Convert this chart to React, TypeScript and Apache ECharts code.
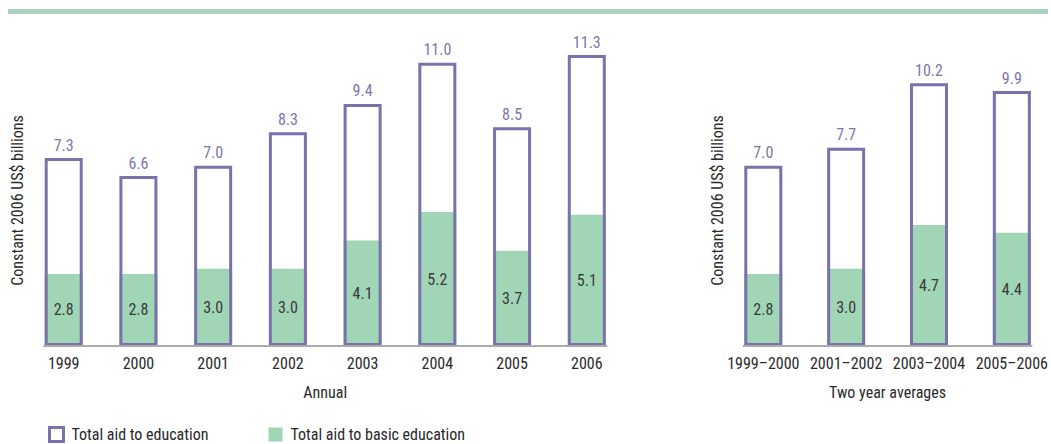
import React, { useEffect, useRef } from "react";
import * as echarts from "echarts";

const years = ["1999", "2000", "2001", "2002", "2003", "2004", "2005", "2006"];
const totalAnnual = [7.3, 6.6, 7.0, 8.3, 9.4, 11.0, 8.5, 11.3];
const basicAnnual = [2.8, 2.8, 3.0, 3.0, 4.1, 5.2, 3.7, 5.1];

const periods = ["1999–2000", "2001–2002", "2003–2004", "2005–2006"];
const totalAvg = [7.0, 7.7, 10.2, 9.9];
const basicAvg = [2.8, 3.0, 4.7, 4.4];

const yAxisTitle = "Constant 2006 US$ billions";
const leftTitle = "Annual";
const rightTitle = "Two year averages";
const totalName = "Total aid to education";
const basicName = "Total aid to basic education";

const FONT = "'Liberation Sans Narrow', 'Roboto Condensed', 'DejaVu Sans Condensed', 'Liberation Sans', sans-serif";
const PURPLE = "#7a72aa";
const PURPLE_TEXT = "#7d76ad";
const GREEN = "#a0d5b6";
const TEXT = "#2a2a2a";
const BAR_W = 38;

export default function App() {
  const ref = useRef<HTMLDivElement>(null);
  useEffect(() => {
    document.body.style.margin = "0";
    document.body.style.overflow = "hidden";
    if (!ref.current) return;
    const chart = echarts.init(ref.current, null, { renderer: "svg" });
    const yMax = Math.max(...totalAnnual, ...totalAvg);

    const yAxisCommon = (gridIndex: number) => ({
      type: "value",
      gridIndex,
      min: 0,
      max: yMax,
      name: yAxisTitle,
      nameLocation: "middle",
      nameGap: 38,
      nameTextStyle: { fontFamily: FONT, fontSize: 16, color: TEXT },
      axisLine: { show: false },
      axisTick: { show: false },
      axisLabel: { show: false },
      splitLine: { show: false },
    });
    const xAxisCommon = (gridIndex: number, data: string[], name: string) => ({
      type: "category",
      gridIndex,
      data,
      boundaryGap: false,
      name,
      nameLocation: "middle",
      nameGap: 38,
      nameTextStyle: { fontFamily: FONT, fontSize: 16, color: TEXT },
      axisLine: { show: false },
      axisTick: { show: false },
      splitLine: { show: false },
      axisLabel: { interval: 0, hideOverlap: false, fontFamily: FONT, fontSize: 16, color: TEXT, margin: 9 },
    });
    const basicSeries = (idx: number, data: number[]) => ({
      type: "bar",
      name: basicName,
      xAxisIndex: idx,
      yAxisIndex: idx,
      data,
      barWidth: BAR_W,
      barGap: "-100%",
      clip: false,
      itemStyle: { color: GREEN },
      label: {
        show: true,
        position: "inside",
        fontFamily: FONT,
        fontSize: 16,
        color: "#3a3a3a",
        formatter: (p: any) => Number(p.value).toFixed(1),
      },
    });
    const totalSeries = (idx: number, data: number[]) => ({
      type: "bar",
      name: totalName,
      xAxisIndex: idx,
      yAxisIndex: idx,
      data,
      barWidth: BAR_W,
      barGap: "-100%",
      clip: false,
      itemStyle: { color: "rgba(255,255,255,0)", borderColor: PURPLE, borderWidth: 3 },
      label: {
        show: true,
        position: "top",
        distance: 5,
        fontFamily: FONT,
        fontSize: 16,
        color: PURPLE_TEXT,
        formatter: (p: any) => Number(p.value).toFixed(1),
      },
    });

    const scale = 25.75;
    chart.setOption({
      animation: false,
      backgroundColor: "#fff",
      grid: [
        { left: 63.7, right: 1051 - 586.8, top: 346 - yMax * scale, bottom: 444 - 346 },
        { left: 763.3, right: 1051 - 1018.7, top: 346 - yMax * scale, bottom: 444 - 346 },
      ],
      xAxis: [xAxisCommon(0, years, leftTitle), xAxisCommon(1, periods, rightTitle)],
      yAxis: [yAxisCommon(0), yAxisCommon(1)],
      legend: {
        left: 43,
        top: 421,
        itemWidth: 14,
        itemHeight: 14,
        itemGap: 60,
        icon: "rect",
        textStyle: { fontFamily: FONT, fontSize: 16, color: TEXT, padding: [0, 0, 0, 3] },
        data: [
          { name: totalName, itemStyle: { color: "#fff", borderColor: PURPLE, borderWidth: 3 } },
          { name: basicName, itemStyle: { color: GREEN, borderWidth: 0 } },
        ],
      },
      series: [
        basicSeries(0, basicAnnual),
        totalSeries(0, totalAnnual),
        basicSeries(1, basicAvg),
        totalSeries(1, totalAvg),
      ],
    });

    const half = BAR_W / 2 + 1.5;
    const baseline = (idx: number, cats: string[]) => {
      const x0 = chart.convertToPixel({ xAxisIndex: idx } as any, cats[0]) as number;
      const x1 = chart.convertToPixel({ xAxisIndex: idx } as any, cats[cats.length - 1]) as number;
      const y = chart.convertToPixel({ yAxisIndex: idx } as any, 0) as number;
      return {
        type: "line",
        z: 10,
        shape: { x1: x0 - half, y1: y, x2: x1 + half, y2: y },
        style: { stroke: "#ababab", lineWidth: 2 },
      };
    };

    chart.setOption({
      graphic: [
        { type: "rect", shape: { x: 8, y: 9, width: 1040, height: 5 }, style: { fill: "#a9d3bf" } },
        baseline(0, years),
        baseline(1, periods),
      ],
    });

    return () => chart.dispose();
  }, []);
  return <div ref={ref} style={{ width: 1051, height: 444 }} />;
}
